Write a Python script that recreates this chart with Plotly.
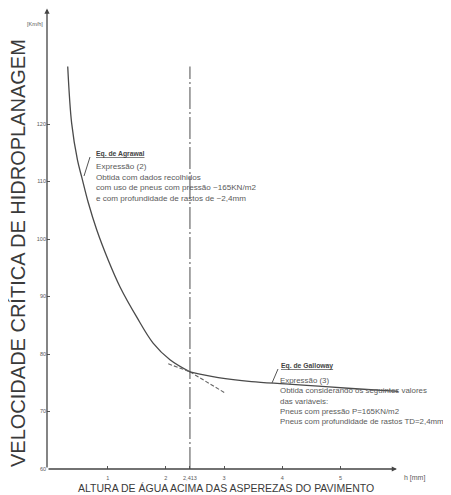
import plotly.graph_objects as go

# ---------------- data ----------------
agrawal_h = [0.313, 0.381, 0.481, 0.553, 0.667, 0.811, 1.01, 1.21, 1.50, 1.78, 2.07, 2.413]
agrawal_v = [130.0, 120.1, 113.7, 110.8, 106.3, 101.6, 96.3, 91.7, 86.4, 81.9, 79.0, 76.9]
agrawal_ext_h = [2.413, 3.02]
agrawal_ext_v = [76.9, 73.2]

galloway_h = [2.413, 2.90, 3.47, 4.05, 4.62, 5.19, 5.99]
galloway_v = [76.9, 75.9, 75.2, 74.8, 74.4, 74.0, 73.5]
galloway_ext_h = [2.04, 2.413]
galloway_ext_v = [78.3, 76.9]

h_critical = 2.413
vline_v = [60, 130]

x_tickvals = [1, 2, 2.413, 3, 4, 5]
x_ticktext = ["1", "2", "2,413", "3", "4", "5"]
y_tickvals = [60, 70, 80, 90, 100, 110, 120]
y_ticktext = ["60", "70", "80", "90", "100", "110", "120"]

# ---------------- layout geometry ----------------
OFF = 8                      # page body margin offset
W, H = 451 - OFF, 495 - OFF
L, R, T, B = 47 - OFF, 41, 0, 26
PW, PH = W - L - R, H - T - B
XR = [(L + OFF - 49.5) / 58.2, (L + OFF - 49.5) / 58.2 + PW / 58.2]
YR = [60, 60 + PH / 5.75]


def px(x):
    """page x pixel -> paper"""
    return (x - OFF - L) / PW


def py(y):
    """page y pixel -> paper"""
    return (H - B - (y - OFF)) / PH


FONT = "Liberation Sans, Arial, sans-serif"
CURVE = "#4a4a4a"
TXT = "#5a5a5a"

fig = go.Figure()

fig.add_trace(go.Scatter(x=[h_critical, h_critical], y=vline_v, mode="lines",
                         line=dict(color="#6a6a6a", width=1.2, dash="22px,3px,2px,3px"),
                         hoverinfo="skip", showlegend=False))
fig.add_trace(go.Scatter(x=agrawal_h, y=agrawal_v, mode="lines", line_shape="spline",
                         line=dict(color=CURVE, width=1.3), showlegend=False))
fig.add_trace(go.Scatter(x=agrawal_ext_h, y=agrawal_ext_v, mode="lines",
                         line=dict(color="#666", width=1.1, dash="4px,2px"), showlegend=False))
fig.add_trace(go.Scatter(x=galloway_h, y=galloway_v, mode="lines", line_shape="spline",
                         line=dict(color=CURVE, width=1.3), showlegend=False))
fig.add_trace(go.Scatter(x=galloway_ext_h, y=galloway_ext_v, mode="lines",
                         line=dict(color="#666", width=1.1, dash="4px,2px"), showlegend=False))

annotations = []
# axis arrows
annotations.append(dict(x=5.97, y=60, ax=XR[0], ay=60, xref="x", yref="y", axref="x", ayref="y",
                        showarrow=True, arrowhead=2, arrowsize=0.8, arrowwidth=1.3,
                        arrowcolor="#444", text=""))
annotations.append(dict(x=XR[0], y=YR[1] - 0.1, ax=XR[0], ay=60, xref="x", yref="y", axref="x", ayref="y",
                        showarrow=True, arrowhead=2, arrowsize=0.8, arrowwidth=1.3,
                        arrowcolor="#444", text=""))
# unit labels
annotations.append(dict(x=px(45), y=py(24), xref="paper", yref="paper", xanchor="right", yanchor="middle",
                        text="[Km/h]", showarrow=False, font=dict(family=FONT, size=5.5, color=TXT)))
annotations.append(dict(x=px(402), y=py(478), xref="paper", yref="paper", xanchor="left", yanchor="middle",
                        text="h [mm]", showarrow=False, font=dict(family=FONT, size=7, color=TXT)))
# axis titles
annotations.append(dict(x=px(18), y=py(253), xref="paper", yref="paper", xanchor="center", yanchor="middle",
                        textangle=-90, text="VELOCIDADE CRÍTICA DE HIDROPLANAGEM", showarrow=False,
                        font=dict(family=FONT, size=20, color="#3a3a3a")))
annotations.append(dict(x=px(226), y=py(488), xref="paper", yref="paper", xanchor="center", yanchor="middle",
                        text="ALTURA DE ÁGUA ACIMA DAS ASPEREZAS DO PAVIMENTO", showarrow=False,
                        font=dict(family=FONT, size=10.5, color="#3a3a3a")))
# Agrawal note
annotations.append(dict(x=px(94), y=py(154), xref="paper", yref="paper", xanchor="left", yanchor="middle",
                        text="<u><b>Eq. de Agrawal</b></u>", showarrow=False,
                        font=dict(family=FONT, size=6.8, color="#444")))
annotations.append(dict(x=px(94), y=py(160), xref="paper", yref="paper", xanchor="left", yanchor="top",
                        align="left", showarrow=False,
                        text="Expressão (2)<br>Obtida com dados recolhidos<br>"
                             "com uso de pneus com pressão ~165KN/m2<br>e com profundidade de rastos de ~2,4mm",
                        font=dict(family=FONT, size=8.1, color=TXT)))
# Galloway note
annotations.append(dict(x=px(279), y=py(366), xref="paper", yref="paper", xanchor="left", yanchor="middle",
                        text="<u><b>Eq. de Galloway</b></u>", showarrow=False,
                        font=dict(family=FONT, size=6.8, color="#444")))
annotations.append(dict(x=px(278), y=py(374), xref="paper", yref="paper", xanchor="left", yanchor="top",
                        align="left", showarrow=False,
                        text="Expressão (3)<br>Obtida considerando os seguintes valores<br>das variáveis:<br>"
                             "Pneus com pressão P=165KN/m2<br>Pneus com profundidade de rastos TD=2,4mm",
                        font=dict(family=FONT, size=7.9, color=TXT)))

shapes = [
    dict(type="line", xref="paper", yref="paper", x0=px(84), y0=py(176), x1=px(90), y1=py(157),
         line=dict(color="#555", width=1)),
    dict(type="line", xref="paper", yref="paper", x0=px(272), y0=py(383), x1=px(278), y1=py(369),
         line=dict(color="#555", width=1)),
]

fig.update_layout(
    width=W, height=H,
    margin=dict(l=L, r=R, t=T, b=B, pad=0),
    paper_bgcolor="white", plot_bgcolor="white",
    showlegend=False,
    annotations=annotations, shapes=shapes,
    xaxis=dict(range=XR, tickvals=x_tickvals, ticktext=x_ticktext, ticks="inside", ticklen=3,
               tickcolor="#555", showgrid=False, zeroline=False, showline=False,
               ticklabelstandoff=4,
               tickfont=dict(family=FONT, size=5.5, color=TXT), fixedrange=True),
    yaxis=dict(range=YR, tickvals=y_tickvals, ticktext=y_ticktext, ticks="inside", ticklen=3,
               tickcolor="#555", showgrid=False, zeroline=False, showline=False,
               tickfont=dict(family=FONT, size=5.5, color=TXT), fixedrange=True),
)

fig.write_html("out.html")
